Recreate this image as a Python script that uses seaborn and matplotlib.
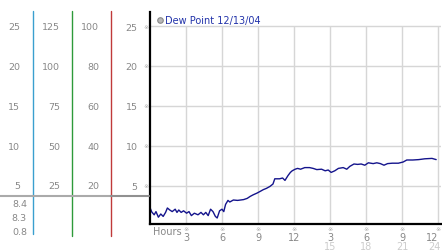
import matplotlib
matplotlib.use("Agg")
import matplotlib.pyplot as plt
import matplotlib.transforms as mtransforms
from matplotlib.lines import Line2D
import seaborn as sns
import pandas as pd

# ---- data ----
hours = [0.0, 0.15, 0.35, 0.5, 0.7, 0.9, 1.1, 1.3, 1.45, 1.65, 1.85, 2.1, 2.25, 2.4,
         2.6, 2.8, 3.05, 3.25, 3.45, 3.7, 4.0, 4.25, 4.45, 4.65, 4.85, 5.05, 5.25,
         5.45, 5.6, 5.8, 6.0, 6.15, 6.3, 6.5, 6.65, 6.95, 7.3, 7.8, 8.1, 8.35, 8.6,
         8.9, 9.15, 9.45, 9.7, 10.0, 10.25, 10.4, 10.8, 11.05, 11.25, 11.5, 11.7,
         11.85, 12.1, 12.3, 12.55, 12.9, 13.3, 13.6, 13.9, 14.3, 14.6, 14.85, 15.1,
         15.4, 15.7, 16.1, 16.4, 16.65, 17.0, 17.3, 17.6, 17.9, 18.2, 18.6, 18.9,
         19.2, 19.5, 19.8, 20.2, 20.7, 21.1, 21.4, 21.9, 22.4, 22.9, 23.5, 23.85]
dew_point = [2.3, 1.75, 1.4, 1.8, 1.1, 1.5, 1.2, 1.7, 2.25, 2.0, 1.8, 2.1, 1.7, 2.0,
             1.7, 1.9, 1.6, 1.8, 1.3, 1.6, 1.4, 1.7, 1.4, 1.7, 1.3, 2.1, 1.8,
             1.2, 1.0, 1.9, 2.1, 1.8, 2.7, 3.2, 3.0, 3.25, 3.2, 3.3, 3.45, 3.7, 3.9,
             4.1, 4.3, 4.55, 4.7, 4.95, 5.25, 5.9, 5.9, 6.0, 5.7, 6.3, 6.7,
             6.9, 7.1, 7.2, 7.1, 7.3, 7.3, 7.2, 7.05, 7.1, 6.9, 7.0, 6.7,
             6.9, 7.2, 7.3, 7.1, 7.45, 7.75, 7.7, 7.75, 7.6, 7.9, 7.8, 7.9,
             7.8, 7.6, 7.8, 7.85, 7.85, 8.0, 8.25, 8.25, 8.3, 8.4, 8.45, 8.3]

series_label = "Dew Point 12/13/04"
x_ticks = [3, 6, 9, 12, 15, 18, 21, 24]
x_tick_labels = ["3", "6", "9", "12", "3", "6", "9", "12"]
x_second_row = ["15", "18", "21", "24"]
y_ticks = [5, 10, 15, 20, 25]
scale1 = ["5", "10", "15", "20", "25"]
scale2 = ["25", "50", "75", "100", "125"]
scale3 = ["20", "40", "60", "80", "100"]
scale4 = ["5", "10", "15", "20", "25"]
stats = ["8.4", "8.3", "0.8"]

W, H = 442, 253
sns.set_style("white")
plt.rcParams["font.family"] = ["DejaVu Sans"]

fig = plt.figure(figsize=(W / 100, H / 100), dpi=100)
fig.patch.set_facecolor("white")

def fx(px):
    return px / W

def fy(py):
    return 1 - py / H

XMIN, XMAX = -0.04, 24.21
YMIN, YMAX = 0.25, 26.75
ax = fig.add_axes([fx(149.5), fy(225), fx(440.5) - fx(149.5), fy(13) - fy(225)])

# grid (vertical lines stop at the top gridline)
ax.vlines(x_ticks, YMIN, y_ticks[-1], color="#d6d6d6", lw=1.0, zorder=0)
ax.hlines(y_ticks, XMIN, XMAX, color="#d6d6d6", lw=1.0, zorder=0)

df = pd.DataFrame({"hours": hours, "dew": dew_point})
sns.lineplot(data=df, x="hours", y="dew", ax=ax, color="#14148c", lw=1.0)

ax.set_xlim(XMIN, XMAX)
ax.set_ylim(YMIN, YMAX)
ax.set_xlabel("")
ax.set_ylabel("")
ax.set_xticks(x_ticks)
ax.set_xticklabels(x_tick_labels)
ax.set_yticks(y_ticks)
ax.set_yticklabels(scale4)
ax.tick_params(axis="x", length=0, pad=6, labelsize=7, colors="#888888")
ax.tick_params(axis="y", length=0, pad=8.5, labelsize=6.8, colors="#888888")
ax.get_xticklabels()[-1].set_horizontalalignment("right")
ax.get_xticklabels()[-1].set_x(24.25)
ax.grid(False)
for s in ["top", "right"]:
    ax.spines[s].set_visible(False)
for s in ["left", "bottom"]:
    ax.spines[s].set_color("black")
    ax.spines[s].set_linewidth(1.6)

# legend-like label
ax.legend(handles=[Line2D([], [], marker="o", ls="none", markersize=4,
                          markerfacecolor="#b8b8b8", markeredgecolor="#888888",
                          markeredgewidth=0.8)],
          labels=[series_label], loc="upper left", bbox_to_anchor=(fx(158), fy(16)),
          bbox_transform=fig.transFigure, frameon=False, fontsize=7,
          labelcolor="#2233aa", handlelength=0.5, handletextpad=0.25,
          borderpad=0, borderaxespad=0)

# tiny markers next to axes
ytr = mtransforms.blended_transform_factory(fig.transFigure, ax.transData)
xtr = mtransforms.blended_transform_factory(ax.transData, fig.transFigure)
for yv in y_ticks:
    t = fig.text(fx(146), 0, "\u203b", transform=ytr, fontsize=4.5, color="#aaaaaa",
                 ha="center", va="center")
    t.set_y(yv)
for xv in x_ticks:
    t = fig.text(0, fy(230), "\u203b", transform=xtr, fontsize=4.5, color="#aaaaaa",
                 ha="center", va="center")
    t.set_x(xv)
for xv, lab in zip(x_ticks[4:], x_second_row):
    t = fig.text(0, fy(247), lab, transform=xtr, fontsize=7, color="#cccccc",
                 ha="right" if xv == 24 else "center", va="center")
    t.set_x(24.25 if xv == 24 else xv)
fig.text(fx(153), fy(232), "Hours", fontsize=7, color="#888888", ha="left", va="center")

# left scales
for labels, xr in [(scale1, 20), (scale2, 60), (scale3, 99)]:
    for yv, lab in zip(y_ticks, labels):
        t = fig.text(fx(xr), 0, lab, transform=ytr, fontsize=6.8, color="#888888",
                     ha="right", va="center")
        t.set_y(yv)

# colored axis lines
for xp, col, yb in [(33, "#3a9fcf", 235), (72, "#2e9a3a", 237), (111, "#c03a3a", 237)]:
    fig.add_artist(Line2D([fx(xp), fx(xp)], [fy(12), fy(yb)], color=col, lw=1.0,
                          transform=fig.transFigure))
# gray separator
fig.add_artist(Line2D([0, fx(111)], [fy(197), fy(197)], color="#aaaaaa", lw=1.5,
                      transform=fig.transFigure))
fig.add_artist(Line2D([fx(111), fx(149)], [fy(197), fy(197)], color="#909090", lw=1.5,
                      transform=fig.transFigure))
for lab, yp in zip(stats, [205, 219, 233]):
    fig.text(fx(27), fy(yp), lab, fontsize=6.8, color="#888888", ha="right", va="center")

fig.savefig("out.png", dpi=100, facecolor="white")
